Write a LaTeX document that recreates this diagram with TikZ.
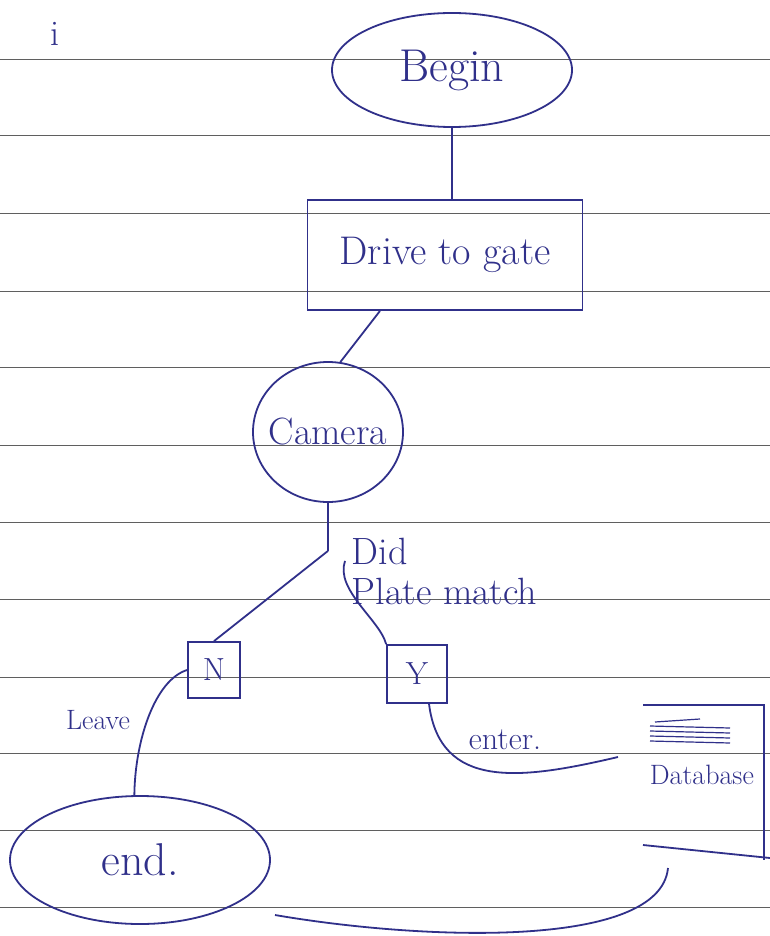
\documentclass[tikz,border=0pt]{standalone}
\usetikzlibrary{shapes.geometric}
\definecolor{ink}{RGB}{48,48,138}
\definecolor{rule}{RGB}{95,95,95}
\newcommand{\hand}[1]{\fontsize{#1}{#1}\selectfont}

\begin{document}
\begin{tikzpicture}[x=1pt, y=-1pt, line width=1.8pt, draw=ink, text=ink,
	oval/.style={draw, ellipse, inner sep=0pt},
	boxnode/.style={draw, rectangle, inner sep=0pt},
	lbl/.style={inner sep=1pt}]
	\useasboundingbox[fill=white] (0,0) rectangle (770,936);
	% ruled paper
	\foreach \y in {60,136,213,291,367,445,522,599,677,753,830,907}
		\draw[rule, line width=1pt] (0,\y) -- (770,\y);
	\node[lbl, font=\hand{36}] (pageno) at (55,34) {i};

	\node[oval, minimum width=240pt, minimum height=114pt, font=\hand{46}] (begin) at (452,70) {Begin};
	\node[boxnode, minimum width=275pt, minimum height=110pt, font=\hand{40}] (drive) at (445,255) {Drive to gate};
	\node[oval, inner xsep=-14pt, minimum width=150pt, minimum height=140pt, font=\hand{38}] (camera) at (328,432) {Camera};
	\node[boxnode, minimum width=52pt, minimum height=56pt, font=\hand{32}] (nbox) at (214,670) {N};
	\node[boxnode, minimum width=60pt, minimum height=58pt, font=\hand{32}] (ybox) at (417,674) {Y};
	\node[oval, minimum width=260pt, minimum height=128pt, font=\hand{46}] (end) at (140,860) {end.};

	\draw (begin.south) -- (begin.south |- drive.north);
	\draw ([xshift=-65pt]drive.south) -- (camera.80);
	\draw (camera.south) -- ++(0,48) coordinate (fork);
	\draw (fork) -- (nbox.north);
	\draw ([xshift=17pt, yshift=-10pt]fork) .. controls (335,590) and (380,620) .. (ybox.north west);
	\node[lbl, align=left, anchor=north west, font=\hand{38}] (match) at (350,536) {Did\\[2pt]Plate match};

	% N branch
	\draw (nbox.west) .. controls (155,680) and (135,740) .. (end.95);
	\node[lbl, font=\hand{28}] (leave) at (98,720) {Leave};

	% Y branch to the database
	\coordinate (dbin) at (618,757);
	\draw ([xshift=12pt]ybox.south) .. controls (440,790) and (520,780) .. (dbin);
	\node[lbl, font=\hand{32}] (enter) at (505,740) {enter.};

	% database, open at the page edge
	\draw (643,705) -- (764,705) -- (764,860);
	\draw (643,845) -- (770,858);
	\foreach \y in {726,731,736,741}
		\draw[line width=1.2pt] (650,\y) -- (730,\y+2);
	\draw[line width=1.2pt] (655,722) -- (700,719);
	\node[lbl, anchor=west, font=\hand{28}] (db) at (648,775) {Database};

	% back to the end
	\coordinate (loopstart) at (275,915);
	\coordinate (loopend) at (668,868);
	\draw (loopstart) .. controls (420,940) and (660,950) .. (loopend);
\end{tikzpicture}
\end{document}
